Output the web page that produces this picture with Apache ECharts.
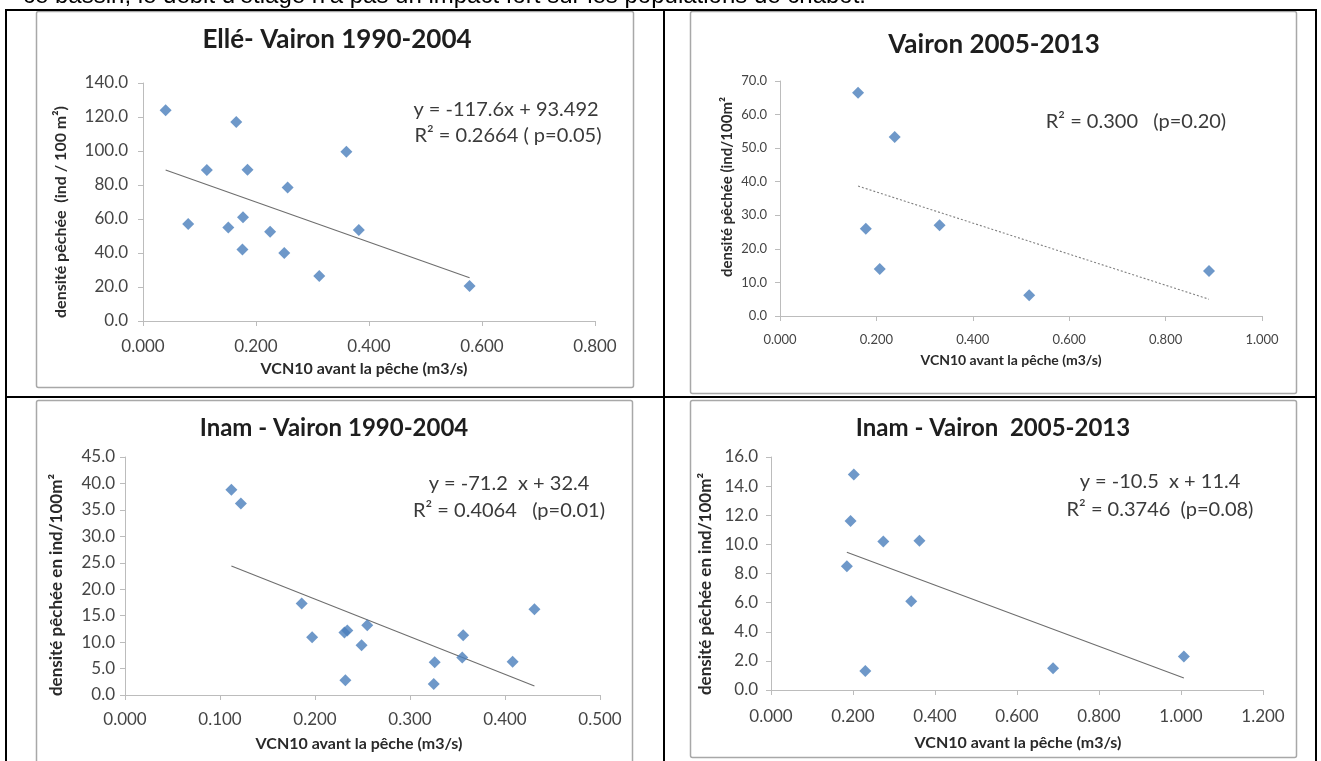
<!DOCTYPE html>
<html><head><meta charset="utf-8">
<script src="https://cdn.jsdelivr.net/npm/echarts@6/dist/echarts.min.js"></script>
<style>html,body{margin:0;padding:0;background:#fff}#c{width:1321px;height:761px}</style>
</head><body><div id="c"></div>
<script>
// ---- data ----
const introText = "ce bassin, le débit d'étiage n'a pas un impact fort sur les populations de chabot.";
const titles = ['Ellé- Vairon 1990-2004', 'Vairon 2005-2013', 'Inam - Vairon 1990-2004', 'Inam - Vairon  2005-2013'];
const xTitles = ['VCN10 avant la pêche (m3/s)', 'VCN10 avant la pêche (m3/s)', 'VCN10 avant la pêche (m3/s)', 'VCN10 avant la pêche (m3/s)'];
const yTitles = ['densité pêchée  (ind / 100 m²)', 'densité pêchée (ind/100m²', 'densité pêchée en ind/100m²', 'densité pêchée en ind/100m²'];
const eq1 = ['y = -117.6x + 93.492', 'R² = 0.2664 ( p=0.05)'];
const eq2 = ['R² = 0.300   (p=0.20)'];
const eq3 = ['y = -71.2  x + 32.4', 'R² = 0.4064   (p=0.01)'];
const eq4 = ['y = -10.5  x + 11.4', 'R² = 0.3746  (p=0.08)'];

const ellX = [0.040, 0.165, 0.113, 0.185, 0.256, 0.360, 0.080, 0.151, 0.177, 0.225, 0.176, 0.250, 0.312, 0.382, 0.578];
const ellY = [124.0, 117.0, 88.8, 89.0, 78.5, 99.5, 57.0, 55.0, 61.0, 52.5, 42.0, 40.0, 26.5, 53.5, 20.6];
const ellTrendX = [0.040, 0.578];
const ellTrendY = [88.8, 25.5];

const vaiX = [0.162, 0.238, 0.178, 0.331, 0.207, 0.517, 0.890];
const vaiY = [66.5, 53.3, 26.0, 27.0, 14.0, 6.2, 13.4];
const vaiTrendX = [0.162, 0.890];
const vaiTrendY = [38.7, 5.0];

const inam1X = [0.112, 0.122, 0.186, 0.197, 0.231, 0.234, 0.255, 0.249, 0.232, 0.356, 0.355, 0.326, 0.325, 0.408, 0.431];
const inam1Y = [38.8, 36.2, 17.3, 10.9, 11.8, 12.2, 13.2, 9.4, 2.8, 11.3, 7.1, 6.2, 2.1, 6.3, 16.2];
const inam1TrendX = [0.112, 0.431];
const inam1TrendY = [24.4, 1.7];

const inam2X = [0.202, 0.194, 0.185, 0.274, 0.362, 0.342, 0.230, 0.688, 1.007];
const inam2Y = [14.8, 11.6, 8.5, 10.2, 10.25, 6.1, 1.3, 1.5, 2.3];
const inam2TrendX = [0.185, 1.007];
const inam2TrendY = [9.46, 0.83];

const xMax = [0.8, 1.0, 0.5, 1.2];
const xStep = [0.2, 0.2, 0.1, 0.2];
const yMax = [140, 70, 45, 16];
const yStep = [20, 10, 5, 2];

// ---- build ----
const pairs = (xs, ys) => xs.map((x, i) => [x, ys[i]]);
const MARK = '#4a7ebb';
const AX = '#bcbcbc';
const LBL = '#454545';

const grids = [
  {left: 143, top: 83, width: 452, height: 238},
  {left: 780, top: 81, width: 482, height: 235},
  {left: 125, top: 457, width: 475, height: 238},
  {left: 771, top: 457, width: 492, height: 233}
];
const lblSize = [17, 13, 17, 17];
const xMargin = [17, 17, 16, 18];
const yMargin = [15, 13, 10, 13];

function xAx(i) {
  return {
    type: 'value', gridIndex: i, min: 0, max: xMax[i], interval: xStep[i],
    axisLine: {show: true, onZero: false, lineStyle: {color: AX, width: 1}},
    axisTick: {show: true, length: 5, lineStyle: {color: AX}},
    splitLine: {show: false},
    axisLabel: {color: LBL, fontFamily: 'Lato', fontSize: lblSize[i], margin: xMargin[i],
      formatter: v => v.toFixed(3), showMaxLabel: true, showMinLabel: true}
  };
}
function yAx(i) {
  return {
    type: 'value', gridIndex: i, min: 0, max: yMax[i], interval: yStep[i],
    axisLine: {show: true, onZero: false, lineStyle: {color: AX, width: 1}},
    axisTick: {show: true, length: 5, lineStyle: {color: AX}},
    splitLine: {show: false},
    axisLabel: {color: LBL, fontFamily: 'Lato', fontSize: lblSize[i], margin: yMargin[i],
      formatter: v => v.toFixed(1)}
  };
}
const sets = [
  [ellX, ellY, ellTrendX, ellTrendY, 'solid'],
  [vaiX, vaiY, vaiTrendX, vaiTrendY, [2, 2]],
  [inam1X, inam1Y, inam1TrendX, inam1TrendY, 'solid'],
  [inam2X, inam2Y, inam2TrendX, inam2TrendY, 'solid']
];
const series = [];
sets.forEach((s, i) => {
  series.push({
    type: 'line', xAxisIndex: i, yAxisIndex: i, data: pairs(s[2], s[3]),
    symbol: 'none', silent: true, z: 2,
    lineStyle: {color: i === 1 ? '#808080' : '#6e6e6e', width: 1.1, type: s[4]}
  });
  series.push({
    type: 'scatter', xAxisIndex: i, yAxisIndex: i, data: pairs(s[0], s[1]),
    symbol: 'diamond', symbolSize: 12, z: 3,
    itemStyle: {color: MARK}
  });
});

function txt(t, x, y, font, fill, rot) {
  return {type: 'text', x: x, y: y, rotation: rot || 0, silent: true, z: 10,
    style: {text: t, font: font, fill: fill, align: 'center', verticalAlign: 'middle'}};
}
function line(x1, y1, x2, y2, w, c) {
  return {type: 'line', silent: true, z: 20, shape: {x1: x1, y1: y1, x2: x2, y2: y2},
    style: {stroke: c, lineWidth: w}};
}
function frame(x, y, w, h) {
  return {type: 'rect', silent: true, z: 1, shape: {x: x, y: y, width: w, height: h, r: 2},
    style: {fill: 'none', stroke: '#a8a8a8', lineWidth: 1.5}};
}
const TT = '#1e1e1e';
const AT = '#2a2a2a';
const EQ = '#3a3a3a';
const graphics = [
  {type: 'text', x: 23, y: -3.3, silent: true,
   style: {text: introText, font: '24px "Liberation Sans", Arial', fill: '#000', align: 'left', verticalAlign: 'middle'}},
  frame(36.5, 11.5, 597, 376),
  frame(690.5, 11.5, 606, 382),
  frame(36.5, 400.5, 596, 380),
  frame(690.5, 400.5, 606, 357),
  line(5, 10, 1317, 10, 2, '#000'),
  line(6, 9, 6, 761, 2, '#000'),
  line(1316, 9, 1316, 761, 2, '#000'),
  line(664, 9, 664, 761, 2, '#000'),
  line(5, 397, 1317, 397, 2, '#000'),
  txt(titles[0], 337, 40, 'bold 26px Lato', TT),
  txt(titles[1], 994, 45, 'bold 26px Lato', TT),
  txt(titles[2], 334, 428, 'bold 24px Lato', TT),
  txt(titles[3], 993, 428, 'bold 24px Lato', TT),
  txt(xTitles[0], 364, 369, 'bold 16px Lato', AT),
  txt(xTitles[1], 1011, 360, 'bold 14px Lato', AT),
  txt(xTitles[2], 359, 744, 'bold 16px Lato', AT),
  txt(xTitles[3], 1018, 743, 'bold 16px Lato', AT),
  txt(yTitles[0], 61, 212, 'bold 16px Lato', AT, Math.PI / 2),
  txt(yTitles[1], 727, 187, 'bold 15px Lato', AT, Math.PI / 2),
  txt(yTitles[2], 57, 585, 'bold 17px Lato', AT, Math.PI / 2),
  txt(yTitles[3], 706, 584, 'bold 17px Lato', AT, Math.PI / 2),
  txt(eq1[0], 506, 110, '20px Lato', EQ),
  txt(eq1[1], 508, 136, '20px Lato', EQ),
  txt(eq2[0], 1136, 122, '20px Lato', EQ),
  txt(eq3[0], 509, 484, '20px Lato', EQ),
  txt(eq3[1], 509, 511, '20px Lato', EQ),
  txt(eq4[0], 1160, 482, '20px Lato', EQ),
  txt(eq4[1], 1160, 510, '20px Lato', EQ)
];

const chart = echarts.init(document.getElementById('c'), null, {renderer: 'canvas'});
chart.setOption({
  animation: false,
  backgroundColor: '#ffffff',
  grid: grids,
  xAxis: [0, 1, 2, 3].map(xAx),
  yAxis: [0, 1, 2, 3].map(yAx),
  series: series,
  graphic: graphics
});
</script></body></html>
